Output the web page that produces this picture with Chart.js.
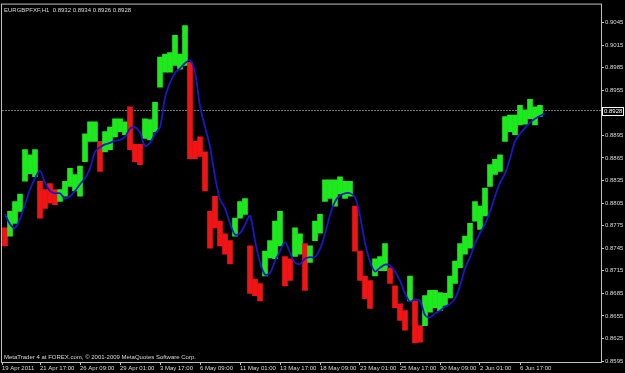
<!DOCTYPE html>
<html>
<head>
<meta charset="utf-8">
<title>EURGBPFXF,H1</title>
<script src="https://cdn.jsdelivr.net/npm/chart.js@4.4.0/dist/chart.umd.min.js"></script>
<style>
  html, body { margin: 0; padding: 0; background: #000; }
  #wrap { width: 625px; height: 373px; }
</style>
</head>
<body>
<div id="wrap"><canvas id="fxChart" width="625" height="373"></canvas></div>
<script>
const symbolInfo = 'EURGBPFXF,H1  0.8932 0.8934 0.8926 0.8928';
const copyright = 'MetaTrader 4 at FOREX.com, \u00a9 2001-2009 MetaQuotes Software Corp.';
const lastPrice = 0.8928;

// time axis labels (one every 64 hourly bars)
const timeLabels = [
  '19 Apr 2011', '21 Apr 17:00', '26 Apr 09:00', '29 Apr 01:00', '3 May 17:00',
  '6 May 09:00', '11 May 01:00', '13 May 17:00', '18 May 09:00', '23 May 01:00',
  '25 May 17:00', '30 May 09:00', '2 Jun 01:00', '6 Jun 17:00'
];

const priceTicks = [
  0.8595, 0.8625, 0.8655, 0.8685, 0.8715, 0.8745, 0.8775, 0.8805,
  0.8835, 0.8865, 0.8895, 0.8955, 0.8985, 0.9015, 0.9045
];

// each value = one block of 8 hourly bars
const highs = [
  0.8772, 0.8794, 0.8807, 0.8817, 0.8876, 0.8869, 0.8876, 0.8834, 0.8823, 0.8831,
  0.8823, 0.8823, 0.8834, 0.8851, 0.8843, 0.8854, 0.8897, 0.8913, 0.8913, 0.8887,
  0.8900, 0.8906, 0.8917, 0.8917, 0.8913, 0.8933, 0.8883, 0.8883, 0.8917, 0.8916,
  0.8939, 0.8999, 0.9003, 0.9005, 0.9028, 0.9003, 0.9041, 0.8992, 0.8887, 0.8893,
  0.8873, 0.8794, 0.8814, 0.8781, 0.8764, 0.8755, 0.8785, 0.8807, 0.8811, 0.8748,
  0.8704, 0.8698, 0.8741, 0.8755, 0.8781, 0.8794, 0.8734, 0.8731, 0.8772, 0.8764,
  0.8751, 0.8748, 0.8781, 0.8790, 0.8836, 0.8836, 0.8836, 0.8840, 0.8834, 0.8834,
  0.8801, 0.8741, 0.8708, 0.8702, 0.8731, 0.8734, 0.8751, 0.8719, 0.8695, 0.8671,
  0.8662, 0.8708, 0.8675, 0.8642, 0.8682, 0.8689, 0.8689, 0.8686, 0.8685, 0.8708,
  0.8728, 0.8751, 0.8761, 0.8778, 0.8807, 0.8801, 0.8825, 0.8856, 0.8863, 0.8869,
  0.8920, 0.8922, 0.8922, 0.8935, 0.8929, 0.8943, 0.8933, 0.8935
];
const lows = [
  0.8748, 0.8761, 0.8778, 0.8794, 0.8834, 0.8844, 0.8840, 0.8785, 0.8798, 0.8805,
  0.8803, 0.8807, 0.8814, 0.8827, 0.8821, 0.8814, 0.8860, 0.8887, 0.8887, 0.8847,
  0.8873, 0.8876, 0.8893, 0.8900, 0.8896, 0.8876, 0.8860, 0.8856, 0.8891, 0.8889,
  0.8900, 0.8959, 0.8979, 0.8979, 0.8988, 0.8983, 0.8988, 0.8864, 0.8864, 0.8867,
  0.8821, 0.8745, 0.8772, 0.8748, 0.8737, 0.8724, 0.8761, 0.8785, 0.8790, 0.8685,
  0.8682, 0.8675, 0.8708, 0.8732, 0.8731, 0.8748, 0.8695, 0.8702, 0.8734, 0.8737,
  0.8689, 0.8726, 0.8755, 0.8765, 0.8807, 0.8811, 0.8801, 0.8817, 0.8811, 0.8814,
  0.8741, 0.8702, 0.8678, 0.8665, 0.8708, 0.8715, 0.8715, 0.8698, 0.8666, 0.8649,
  0.8636, 0.8675, 0.8619, 0.8620, 0.8642, 0.8660, 0.8666, 0.8662, 0.8669, 0.8679,
  0.8698, 0.8719, 0.8737, 0.8745, 0.8781, 0.8770, 0.8788, 0.8827, 0.8843, 0.8847,
  0.8887, 0.8900, 0.8896, 0.8909, 0.8910, 0.8917, 0.8909, 0.8920
];
// 1 = bull block (green), 0 = bear block (red)
const upBars = [
  0, 1, 1, 1, 1, 1, 1, 0, 0, 0,
  0, 1, 1, 1, 1, 1, 1, 1, 1, 0,
  1, 1, 1, 1, 1, 0, 0, 0, 1, 1,
  1, 1, 1, 1, 1, 1, 1, 0, 0, 0,
  0, 0, 0, 0, 0, 0, 1, 1, 1, 0,
  0, 0, 1, 1, 1, 1, 0, 0, 1, 1,
  0, 1, 1, 1, 1, 1, 1, 1, 1, 1,
  0, 0, 0, 0, 1, 1, 1, 0, 0, 0,
  0, 1, 0, 0, 1, 1, 1, 1, 1, 1,
  1, 1, 1, 1, 1, 1, 1, 1, 1, 1,
  1, 1, 1, 1, 1, 1, 1, 1
];
// moving average (blue)
const maValues = [
  0.8790, 0.8777, 0.8772, 0.8784, 0.8803, 0.8823, 0.8838, 0.8848, 0.8832, 0.8821,
  0.8818, 0.8818, 0.8811, 0.8814, 0.8821, 0.8830, 0.8838, 0.8851, 0.8873, 0.8879,
  0.8883, 0.8885, 0.8888, 0.8889, 0.8893, 0.8904, 0.8906, 0.8899, 0.8881, 0.8885,
  0.8897, 0.8906, 0.8945, 0.8965, 0.8978, 0.8984, 0.8991, 0.8995, 0.8979, 0.8934,
  0.8906, 0.8880, 0.8840, 0.8810, 0.8798, 0.8778, 0.8763, 0.8765, 0.8776, 0.8788,
  0.8755, 0.8726, 0.8710, 0.8712, 0.8728, 0.8741, 0.8753, 0.8739, 0.8726, 0.8724,
  0.8731, 0.8733, 0.8733, 0.8744, 0.8764, 0.8789, 0.8807, 0.8815, 0.8818, 0.8818,
  0.8813, 0.8788, 0.8752, 0.8727, 0.8714, 0.8719, 0.8723, 0.8722, 0.8714, 0.8702,
  0.8685, 0.8674, 0.8677, 0.8675, 0.8656, 0.8653, 0.8658, 0.8662, 0.8667, 0.8671,
  0.8678, 0.8695, 0.8718, 0.8733, 0.8751, 0.8765, 0.8777, 0.8794, 0.8814, 0.8832,
  0.8844, 0.8864, 0.8887, 0.8897, 0.8905, 0.8912, 0.8917, 0.8921, 0.8924
];

const X_MIN = 0.4;
const X_MAX = 120.2;
const BLOCKS_PER_LABEL = 8;
const Y_MIN = 0.85937;
const Y_MAX = 0.90688;

const TEXT = '#d8d8d8';
const FRAME = '#c0c0c0';
const smallFont = { family: '"Liberation Sans", Arial, sans-serif', size: 6 };

const barData = highs.map((h, i) => ({ x: i + 1, y: [lows[i], h] }));
const maData = maValues.map((v, i) => ({ x: i + 1, y: v }));

// frame, header texts and the current price box
const mtOverlay = {
  id: 'mtOverlay',
  afterDraw(chart) {
    const { ctx, chartArea: a, scales } = chart;
    ctx.save();
    ctx.strokeStyle = FRAME;
    ctx.lineWidth = 1;
    ctx.strokeRect(a.left - 0.5, a.top - 0.5, a.right - a.left + 1, a.bottom - a.top + 1);

    ctx.font = '6px "Liberation Sans", Arial, sans-serif';
    ctx.fillStyle = TEXT;
    ctx.textBaseline = 'top';
    ctx.fillText(symbolInfo, a.left + 2, a.top + 3);
    ctx.textBaseline = 'bottom';
    ctx.fillText(copyright, a.left + 2, a.bottom - 2);

    const y = Math.round(scales.y.getPixelForValue(lastPrice));
    ctx.fillStyle = '#000';
    ctx.fillRect(a.right + 1, y - 4, 22, 9);
    ctx.strokeStyle = '#ffffff';
    ctx.strokeRect(a.right + 1.5, y - 3.5, 21, 8);
    ctx.fillStyle = '#ffffff';
    ctx.textBaseline = 'middle';
    ctx.fillText(lastPrice.toFixed(4), a.right + 3, y + 0.5);
    ctx.restore();
  }
};

new Chart(document.getElementById('fxChart'), {
  type: 'bar',
  data: {
    datasets: [
      {
        type: 'line',
        label: 'MA',
        data: maData,
        borderColor: '#1818c8',
        borderWidth: 1.8,
        pointRadius: 0,
        tension: 0.3,
        order: 0
      },
      {
        label: 'Price',
        data: barData,
        backgroundColor: upBars.map(u => (u ? '#1ee81e' : '#f01414')),
        borderWidth: 0,
        barPercentage: 1,
        categoryPercentage: 1,
        grouped: false,
        order: 1
      },
      {
        type: 'line',
        label: 'Bid',
        data: [{ x: X_MIN, y: lastPrice }, { x: X_MAX, y: lastPrice }],
        borderColor: '#7a7a7a',
        borderWidth: 1,
        borderDash: [2, 1],
        pointRadius: 0,
        order: 2
      }
    ]
  },
  options: {
    responsive: false,
    devicePixelRatio: 1,
    animation: false,
    layout: { padding: { left: 2, top: 2, right: 0, bottom: 0 } },
    plugins: {
      legend: { display: false },
      tooltip: { enabled: false }
    },
    scales: {
      x: {
        type: 'linear',
        position: 'bottom',
        min: X_MIN,
        max: X_MAX,
        offset: false,
        grid: { offset: false, drawOnChartArea: false, drawTicks: true, tickLength: 3, color: FRAME },
        border: { display: true, color: FRAME },
        afterBuildTicks: s => {
          s.ticks = timeLabels.map((t, k) => ({ value: k === 0 ? X_MIN : k * BLOCKS_PER_LABEL }));
        },
        afterFit: s => { s.height = 11; },
        ticks: {
          autoSkip: false,
          maxRotation: 0,
          align: 'start',
          padding: 0,
          color: TEXT,
          font: smallFont,
          callback: (v, i) => timeLabels[i]
        }
      },
      y: {
        position: 'right',
        min: Y_MIN,
        max: Y_MAX,
        grid: { drawOnChartArea: false, drawTicks: true, tickLength: 3, color: FRAME },
        border: { display: true, color: FRAME },
        afterBuildTicks: s => {
          s.ticks = priceTicks.map(v => ({ value: v }));
        },
        afterFit: s => { s.width = 24; },
        ticks: {
          padding: 1,
          color: TEXT,
          font: smallFont,
          callback: v => v.toFixed(4)
        }
      }
    }
  },
  plugins: [mtOverlay]
});
</script>
</body>
</html>
